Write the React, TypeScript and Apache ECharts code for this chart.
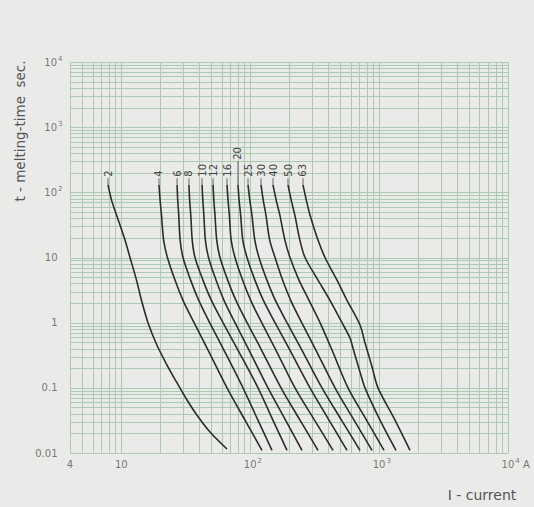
import React, { useEffect, useRef } from 'react';
import * as echarts from 'echarts';

// Fuse ratings (A)
const ratings = ['2', '4', '6', '8', '10', '12', '16', '20', '25', '30', '40', '50', '63'];

// Time levels (s) read for the curves 4 ... 40
const tStd = [130, 76, 45, 18.5, 10, 4.5, 2.2, 1.0, 0.38, 0.1, 0.032, 0.011];

// Melting-time curves: current (A) at each time level
const c2T = [130, 76, 45, 18.5, 10, 4.5, 2.2, 1.0, 0.45, 0.224, 0.123, 0.065, 0.038, 0.021, 0.0115];
const c2I = [7.89, 8.40, 9.18, 10.68, 11.68, 13.12, 14.35, 16.11, 18.92, 22.62, 26.81, 32.34, 38.67, 48.77, 66.08];
const c4I = [19.6, 20.0, 20.5, 21.3, 22.8, 26.1, 30.1, 36.7, 47.1, 66.1, 91.1, 123.5];
const c6I = [27.1, 27.4, 27.9, 28.6, 30.1, 34.5, 39.9, 48.5, 62.5, 87.9, 114.8, 147.6];
const c8I = [33.5, 33.9, 34.6, 35.5, 37.3, 43.0, 50.0, 61.5, 80.3, 115.0, 150.0, 193.0];
const c10I = [42.3, 42.9, 43.7, 44.9, 47.5, 54.3, 62.6, 76.2, 97.9, 137.4, 187.9, 252.3];
const c12I = [51.5, 52.2, 53.3, 55.0, 58.3, 66.9, 77.5, 94.6, 122.4, 173.4, 243.4, 335.8];
const c16I = [66.1, 67.3, 68.9, 71.2, 76.2, 87.3, 100.9, 122.8, 158.3, 222.6, 315.4, 439.0];
const c20I = [80.4, 82.0, 84.3, 87.6, 94.5, 108.8, 126.6, 155.8, 203.3, 291.1, 408.7, 563.7];
const c25I = [96.2, 99.3, 103.1, 108.6, 117.0, 134.8, 156.9, 193.0, 251.8, 360.6, 510.9, 711.0];
const c30I = [121.3, 126.2, 132.4, 141.7, 155.8, 178.4, 206.2, 251.0, 323.4, 454.9, 638.8, 881.1];
const c40I = [150.3, 159.1, 169.7, 185.9, 203.6, 239.1, 285.9, 348.0, 431.2, 573.8, 798.6, 1091.6];
const c50T = [130, 76, 45, 18.5, 10, 4.5, 2.2, 1.0, 0.58, 0.38, 0.175, 0.1, 0.032, 0.011];
const c50I = [196.5, 208.0, 221.8, 243.0, 266.2, 335.8, 416.0, 515.5, 594.7, 633.1, 711.0, 777.4, 1016.4, 1352.6];
const c63T = [130, 76, 45, 18.5, 10, 4.5, 2.2, 0.92, 0.49, 0.21, 0.1, 0.032, 0.011];
const c63I = [256.8, 272.4, 291.1, 335.8, 380.5, 471.5, 563.7, 711.0, 777.4, 881.1, 980.7, 1328.7, 1737.0];

// Label leader lines: from curve top (s) up to this time (s)
const leaderBottomT = 130;
const leaderTopT = [165, 165, 165, 165, 165, 165, 165, 300, 165, 165, 165, 165, 165];

// Grid lines
const xGrid = [4, 5, 6, 7, 8, 9, 10, 20, 30, 40, 50, 60, 70, 80, 90, 100, 200, 300, 400, 500, 600, 700, 800, 900,
  1000, 2000, 3000, 4000, 5000, 6000, 7000, 8000, 9000, 10000];
const yGrid = [0.01, 0.02, 0.03, 0.04, 0.05, 0.06, 0.07, 0.08, 0.09, 0.1, 0.2, 0.3, 0.4, 0.5, 0.6, 0.7, 0.8, 0.9,
  1, 2, 3, 4, 5, 6, 7, 8, 9, 10, 20, 30, 40, 50, 60, 70, 80, 90, 100, 200, 300, 400, 500, 600, 700, 800, 900,
  1000, 2000, 3000, 4000, 5000, 6000, 7000, 8000, 9000, 10000];

// Tick labels
const xTickValues = [4, 10, 100, 1000, 10000];
const xTickBase = ['4', '10', '10', '10', '10'];
const xTickSup = ['', '', '2', '3', '4'];
const xTickSuffix = ['', '', '', '', ' A'];
const yTickValues = [0.01, 0.1, 1, 10, 100, 1000, 10000];
const yTickBase = ['0.01', '0.1', '1', '10', '10', '10', '10'];
const yTickSup = ['', '', '', '', '2', '3', '4'];

const FONT = '"DejaVu Sans", sans-serif';
const TXT = '#555555';
const GRID = '#acc9b2';

export default function App() {
  const ref = useRef<HTMLDivElement>(null);
  useEffect(() => {
    if (!ref.current) return;
    const chart = echarts.init(ref.current, null, { renderer: 'svg' });

    const curves = [
      { I: c2I, T: c2T }, { I: c4I, T: tStd }, { I: c6I, T: tStd }, { I: c8I, T: tStd },
      { I: c10I, T: tStd }, { I: c12I, T: tStd }, { I: c16I, T: tStd }, { I: c20I, T: tStd },
      { I: c25I, T: tStd }, { I: c30I, T: tStd }, { I: c40I, T: tStd }, { I: c50I, T: c50T },
      { I: c63I, T: c63T },
    ];

    const rich = {
      b: { fontSize: 10, fontFamily: FONT, color: TXT, lineHeight: 14 },
      s: { fontSize: 7, fontFamily: FONT, color: TXT, verticalAlign: 'top', lineHeight: 8, padding: [0, 0, 0, 1] },
      a: { fontSize: 10, fontFamily: FONT, color: TXT, lineHeight: 14 },
    };

    const curveSeries = curves.map((c, k) => ({
      type: 'line',
      name: ratings[k],
      data: c.I.map((v, j) => [v, c.T[j]]),
      smooth: 0.3,
      symbol: 'none',
      lineStyle: { color: '#2c2c2c', width: 1.6 },
      z: 3,
      silent: true,
    }));

    const option: any = {
      animation: false,
      backgroundColor: '#eaeae8',
      grid: { left: 70, top: 62, right: 26, bottom: 54 },
      xAxis: {
        type: 'log', logBase: 10, min: 4, max: 10000,
        axisLine: { show: false }, axisTick: { show: false }, axisLabel: { show: false }, splitLine: { show: false },
      },
      yAxis: {
        type: 'log', logBase: 10, min: 0.01, max: 10000,
        axisLine: { show: false }, axisTick: { show: false }, axisLabel: { show: false }, splitLine: { show: false },
      },
      graphic: [
        {
          type: 'text', x: 20, y: 131, rotation: Math.PI / 2,
          style: { text: 't - melting-time  sec.', fill: TXT, font: '13.5px ' + FONT, align: 'center', verticalAlign: 'middle' },
        },
        {
          type: 'text', x: 482, y: 495,
          style: { text: 'I - current', fill: TXT, font: '14px ' + FONT, align: 'center', verticalAlign: 'middle' },
        },
      ],
      series: [
        {
          type: 'custom', silent: true, z: 1,
          data: xGrid.map((v) => [v, 1]),
          renderItem: (params: any, api: any) => {
            const v = api.value(0);
            const p1 = api.coord([v, 0.01]);
            const p2 = api.coord([v, 10000]);
            const x = Math.round(p1[0]) + 0.5;
            return { type: 'line', shape: { x1: x, y1: p1[1], x2: x, y2: p2[1] }, style: { stroke: GRID, lineWidth: 1 } };
          },
        },
        {
          type: 'custom', silent: true, z: 1,
          data: yGrid.map((v) => [4, v]),
          renderItem: (params: any, api: any) => {
            const v = api.value(1);
            const p1 = api.coord([4, v]);
            const p2 = api.coord([10000, v]);
            const y = Math.round(p1[1]) + 0.5;
            return { type: 'line', shape: { x1: p1[0], y1: y, x2: p2[0], y2: y }, style: { stroke: GRID, lineWidth: 1 } };
          },
        },
        ...curveSeries,
        {
          type: 'custom', silent: true, z: 4,
          data: ratings.map((r, i) => [curves[i].I[0], leaderBottomT, leaderTopT[i]]),
          encode: { x: 0, y: [1, 2] },
          renderItem: (params: any, api: any) => {
            const i = params.dataIndex;
            const x = api.value(0);
            const p0 = api.coord([x, api.value(1)]);
            const p1 = api.coord([x, api.value(2)]);
            return {
              type: 'group',
              children: [
                { type: 'line', shape: { x1: p0[0], y1: p0[1], x2: p1[0], y2: p1[1] }, style: { stroke: '#444', lineWidth: 0.8 } },
                {
                  type: 'text', x: p1[0], y: p1[1] - 1.5, rotation: Math.PI / 2,
                  style: { text: ratings[i], fill: '#444', font: '10px ' + FONT, align: 'left', verticalAlign: 'middle' },
                },
              ],
            };
          },
        },
        {
          type: 'scatter', silent: true, clip: false, symbolSize: 1, itemStyle: { color: 'rgba(0,0,0,0)' }, z: 5,
          data: xTickValues.map((v, i) => ({
            value: [v, 0.01],
            label: {
              show: true, position: 'bottom', distance: 4, align: 'left',
              offset: [xTickBase[i].length === 1 ? -3.2 : -6.4, 0],
              rich,
              formatter: () => '{b|' + xTickBase[i] + '}' + (xTickSup[i] ? '{s|' + xTickSup[i] + '}' : '') + (xTickSuffix[i] ? '{a|' + xTickSuffix[i] + '}' : ''),
            },
          })),
        },
        {
          type: 'scatter', silent: true, clip: false, symbolSize: 1, itemStyle: { color: 'rgba(0,0,0,0)' }, z: 5,
          data: yTickValues.map((v, i) => ({
            value: [4, v],
            label: {
              show: true, position: 'left', distance: 12,
              offset: [yTickSup[i] ? 5 : 0, 0],
              rich,
              formatter: () => '{b|' + yTickBase[i] + '}' + (yTickSup[i] ? '{s|' + yTickSup[i] + '}' : ''),
            },
          })),
        },
      ],
    };
    chart.setOption(option);
    return () => chart.dispose();
  }, []);
  return <div ref={ref} style={{ position: 'fixed', left: 0, top: 0, width: 534, height: 507 }} />;
}
